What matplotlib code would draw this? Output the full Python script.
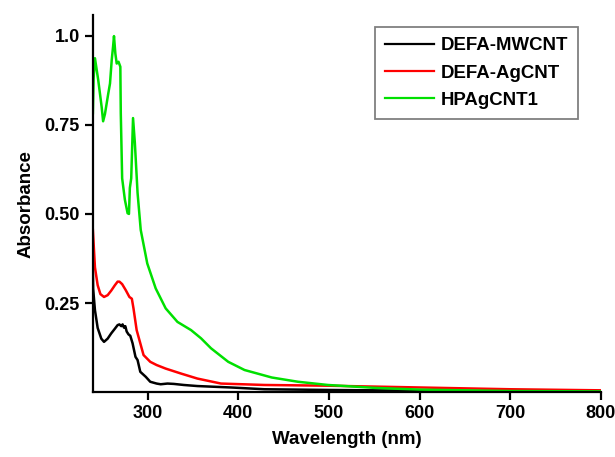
import matplotlib.pyplot as plt

plt.rcParams['font.family'] = ['Liberation Sans', 'DejaVu Sans']
plt.rcParams['font.weight'] = 'bold'

# spectra (wavelength in nm, absorbance)
wl_mwcnt = [239.7, 240, 242, 245, 249, 252, 256, 260, 264, 267, 269, 271, 272.5, 274, 275.5, 277, 279, 281, 283.5,
            286.7, 289, 292, 298, 303, 310, 314.5, 322, 329, 340, 355, 392, 429, 500, 600, 700, 800]
abs_mwcnt = [0.34, 0.29, 0.23, 0.18, 0.15, 0.141, 0.15, 0.165, 0.178, 0.188, 0.19, 0.185, 0.19, 0.181, 0.185, 0.17, 0.162, 0.158, 0.137,
             0.099, 0.09, 0.057, 0.043, 0.029, 0.024, 0.022, 0.024, 0.023, 0.02, 0.017, 0.013, 0.008, 0.006, 0.004, 0.003, 0.002]

wl_agcnt = [239.7, 242, 245, 248, 252, 256, 260, 264, 267, 269, 272, 276, 280, 282.7, 284.5, 288,
            295.6, 303, 310, 320, 337, 355, 381, 429, 499, 600, 700, 800]
abs_agcnt = [0.455, 0.35, 0.3, 0.275, 0.267, 0.272, 0.285, 0.3, 0.31, 0.31, 0.303, 0.286, 0.267, 0.262, 0.235, 0.174,
             0.104, 0.085, 0.076, 0.066, 0.052, 0.038, 0.024, 0.02, 0.018, 0.013, 0.008, 0.005]

wl_hpag = [239.7, 240.5, 242, 245.6, 249.4, 251, 253, 256.7, 258.6, 260.5, 262, 263, 264.5, 266, 268, 270, 270.5, 272,
           275, 278, 279.5, 280.5, 282, 284, 286, 289, 292.5, 299.7, 309, 320, 333, 348, 359, 370, 389, 407,
           437, 466, 499, 550, 600, 700, 800]
abs_hpag = [0.783, 0.88, 0.937, 0.876, 0.8, 0.76, 0.78, 0.838, 0.866, 0.932, 0.97, 0.999, 0.95, 0.922, 0.927, 0.913, 0.782, 0.6,
            0.54, 0.502, 0.5, 0.573, 0.6, 0.769, 0.7, 0.559, 0.455, 0.361, 0.291, 0.235, 0.197, 0.174, 0.151, 0.123, 0.085, 0.062,
            0.041, 0.029, 0.02, 0.012, 0.007, 0.003, 0.002]

x_ticks = [300, 400, 500, 600, 700, 800]
y_ticks = [0.25, 0.50, 0.75, 1.0]
y_tick_labels = ['0.25', '0.50', '0.75', '1.0']

fig = plt.figure(figsize=(6.15, 4.57), dpi=100)
ax = fig.add_axes([0.151, 0.142, 0.826, 0.825])

ax.plot(wl_mwcnt, abs_mwcnt, color='black', lw=1.8, label='DEFA-MWCNT')
ax.plot(wl_agcnt, abs_agcnt, color='#ff0000', lw=1.8, label='DEFA-AgCNT')
ax.plot(wl_hpag, abs_hpag, color='#00e000', lw=1.8, label='HPAgCNT1')

ax.set_xlim(239.7, 800)
ax.set_ylim(0, 1.058)
ax.set_xticks(x_ticks)
ax.set_yticks(y_ticks)
ax.set_yticklabels(y_tick_labels)

for s in ['top', 'right']:
    ax.spines[s].set_visible(False)
for s in ['left', 'bottom']:
    ax.spines[s].set_linewidth(1.6)
ax.tick_params(direction='out', length=6, width=1.6, labelsize=13)

ax.set_xlabel('Wavelength (nm)', fontsize=13.5, fontweight='bold', labelpad=6)
ax.set_ylabel('Absorbance', fontsize=13.5, fontweight='bold', labelpad=7)

leg = ax.legend(loc='upper right', bbox_to_anchor=(0.955, 0.968), borderaxespad=0,
                fancybox=False, edgecolor='#808080', fontsize=13.4, handlelength=2.6,
                labelspacing=0.55, borderpad=0.55, handletextpad=0.35)
leg.get_frame().set_linewidth(1.3)
leg.get_frame().set_alpha(None)
leg.get_frame().set_facecolor('white')
for line in leg.get_lines():
    line.set_linewidth(1.6)

fig.savefig('out.png', dpi=100)
